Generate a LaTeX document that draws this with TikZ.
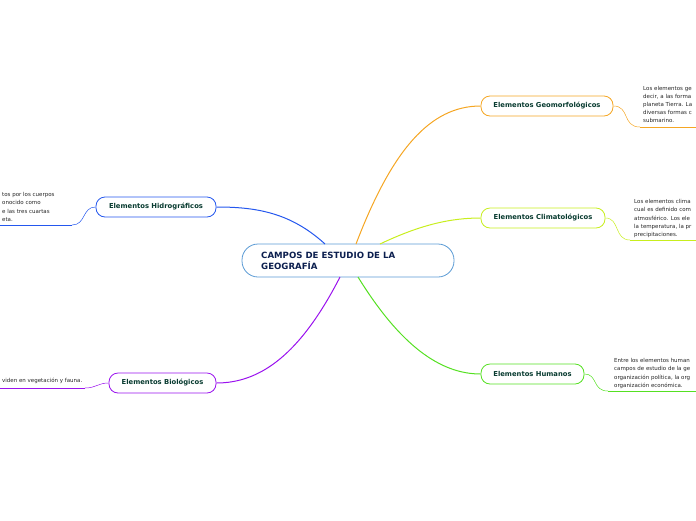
\documentclass[tikz,border=0pt]{standalone}
\usepackage{fontspec}
\setmainfont{DejaVu Sans}
\definecolor{corange}{HTML}{F5A623}
\definecolor{cyellow}{HTML}{C8EE1E}
\definecolor{cgreen}{HTML}{55E022}
\definecolor{cblue}{HTML}{2457EE}
\definecolor{cpurple}{HTML}{9A12EE}
\definecolor{croot}{HTML}{5B9BD5}
\definecolor{ctxt}{HTML}{083B30}
\definecolor{cnavy}{HTML}{0B1E4E}
\begin{document}
\begin{tikzpicture}[x=1pt,y=-1pt,
  topic/.style={draw, line width=0.8pt, rounded corners=9pt, minimum height=20pt, inner sep=0pt, font=\bfseries\fontsize{6.8}{7}\selectfont, text=ctxt, fill=white},
  body/.style={anchor=north west, align=left, inner sep=0pt, font=\fontsize{5.5}{8.1}\selectfont, text=black!85},
  conn/.style={line width=1pt},
  thin/.style={line width=0.5pt}]
\useasboundingbox (0,0) rectangle (696,520);
\clip (0,0) rectangle (696,520);

% central node
\node[draw=croot, line width=0.8pt, rounded corners=16pt, minimum width=212pt, minimum height=33pt, inner sep=0pt, fill=white] (root) at (348,260.5) {};
\node[anchor=west, align=left, inner sep=0pt, font=\bfseries\fontsize{8.6}{11}\selectfont, text=cnavy] (roottxt) at (261,261) {CAMPOS DE ESTUDIO DE LA\\GEOGRAFÍA};

% topic nodes
\node[topic, draw=corange, minimum width=132pt] (geo) at (547,106) {Elementos Geomorfológicos};
\node[topic, draw=cyellow, minimum width=124pt] (cli) at (543,218) {Elementos Climatológicos};
\node[topic, draw=cgreen, minimum width=103pt] (hum) at (532.5,374) {Elementos Humanos};
\node[topic, draw=cblue, minimum width=120pt] (hid) at (156,207) {Elementos Hidrográficos};
\node[topic, draw=cpurple, minimum width=107pt] (bio) at (162.5,383) {Elementos Biológicos};

% anchor coordinates on root
\coordinate (rgeo) at (356,244);
\coordinate (rcli) at (380,244);
\coordinate (rhum) at (358,277);
\coordinate (rhid) at (325,244);
\coordinate (rbio) at (340,277);

% main connectors
\draw[conn, corange] (rgeo) .. controls (392,150) and (430,106) .. (geo.west);
\draw[conn, cyellow] (rcli) .. controls (420,225) and (450,218) .. (cli.west);
\draw[conn, cgreen] (rhum) .. controls (400,345) and (440,374) .. (hum.west);
\draw[conn, cblue] (rhid) .. controls (290,212) and (255,207) .. (hid.east);
\draw[conn, cpurple] (rbio) .. controls (300,355) and (260,383) .. (bio.east);

% text blocks
\node[body] (tgeo) at (643,86) {Los elementos ge\\decir, a las forma\\planeta Tierra. La\\diversas formas c\\submarino.};
\coordinate (ugeo) at (640,127);
\coordinate (egeo) at (696,127);
\draw[thin, corange] (geo.east) .. controls (630,106) and (622,127) .. (ugeo);
\draw[conn, corange] (ugeo) -- (egeo);

\node[body] (tcli) at (634,199.5) {Los elementos clima\\cual es definido com\\atmosférico. Los ele\\la temperatura, la pr\\precipitaciones.};
\coordinate (ucli) at (630,240);
\coordinate (ecli) at (696,240);
\draw[thin, cyellow] (cli.east) .. controls (620,218) and (614,240) .. (ucli);
\draw[conn, cyellow] (ucli) -- (ecli);

\node[body] (thum) at (614,358.5) {Entre los elementos human\\campos de estudio de la ge\\organización política, la org\\organización económica.};
\coordinate (uhum) at (608,391);
\coordinate (ehum) at (696,391);
\draw[thin, cgreen] (hum.east) .. controls (598,374) and (592,391) .. (uhum);
\draw[conn, cgreen] (uhum) -- (ehum);

\node[body] (thid) at (2,192.5) {tos por los cuerpos\\onocido como\\e las tres cuartas\\eta.};
\coordinate (uhid) at (72,225);
\coordinate (ehid) at (0,225);
\draw[thin, cblue] (hid.west) .. controls (82,207) and (86,225) .. (uhid);
\draw[conn, cblue] (uhid) -- (ehid);

\node[body] (tbio) at (2,377.5) {viden en vegetación y fauna.};
\coordinate (ubio) at (85,388);
\coordinate (ebio) at (0,388);
\draw[thin, cpurple] (bio.west) .. controls (98,383) and (96,388) .. (ubio);
\draw[conn, cpurple] (ubio) -- (ebio);
\end{tikzpicture}
\end{document}
